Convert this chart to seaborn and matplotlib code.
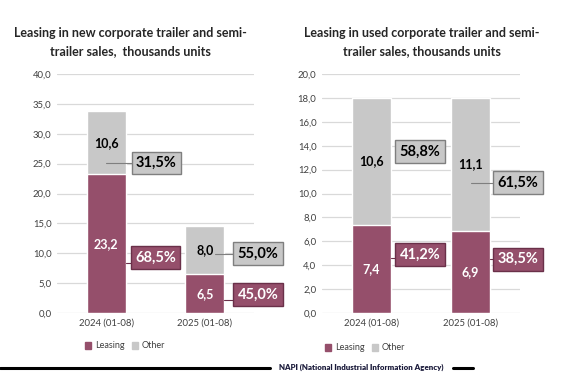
import matplotlib
matplotlib.use("Agg")
import matplotlib.pyplot as plt
from matplotlib import font_manager
import seaborn as sns
import pandas as pd
from matplotlib.lines import Line2D
from matplotlib.patches import Patch

# data
periods = ["2024 (01-08)", "2025 (01-08)"]
new_leasing = [23.2, 6.5]
new_other = [10.6, 8.0]
new_leasing_pct = ["68,5%", "45,0%"]
new_other_pct = ["31,5%", "55,0%"]
used_leasing = [7.4, 6.9]
used_other = [10.6, 11.1]
used_leasing_pct = ["41,2%", "38,5%"]
used_other_pct = ["58,8%", "61,5%"]

LEASE = "#954F6B"
OTHER = "#C8C8C8"
FONT = ["Lato", "DejaVu Sans"]

sns.set_theme(style="white")
plt.rcParams["font.family"] = FONT

# condensed font for the footer, if one is around
fonts = font_manager.fontManager.ttflist
names = {f.name for f in fonts}
footer_kw = dict(family=["Lato", "DejaVu Sans"], fontsize=5.7)
if "Liberation Sans Narrow" in names:
    footer_kw = dict(family=["Liberation Sans Narrow", "DejaVu Sans"], fontsize=7.8)

fig = plt.figure(figsize=(5.8, 3.8), dpi=100)
ax1 = fig.add_axes([57 / 580, 1 - 313 / 380, 197 / 580, 239 / 380])
ax2 = fig.add_axes([322 / 580, 1 - 313 / 380, 198 / 580, 239 / 380])


def fmt(v):
    return f"{v:.1f}".replace(".", ",")


def draw(ax, leasing, other, ymax, step):
    df = pd.DataFrame({"period": periods, "leasing": leasing,
                       "total": [a + b for a, b in zip(leasing, other)]})
    sns.barplot(data=df, x="period", y="total", color=OTHER, width=0.4,
                saturation=1, ax=ax, zorder=2)
    sns.barplot(data=df, x="period", y="leasing", color=LEASE, width=0.4,
                saturation=1, ax=ax, zorder=3)
    ax.set_xlim(-0.5, 1.5)
    ax.set_ylim(0, ymax)
    ticks = [i * step for i in range(int(round(ymax / step)) + 1)]
    ax.set_yticks(ticks)
    ax.set_yticklabels([fmt(t) for t in ticks])
    ax.set_xlabel("")
    ax.set_ylabel("")
    ax.grid(axis="y", color="#D9D9D9", linewidth=0.9, zorder=0)
    ax.set_axisbelow(True)
    for s in ax.spines.values():
        s.set_visible(False)
    ax.tick_params(axis="both", length=0, labelsize=6.8, colors="#404040", pad=4)
    for i in range(len(periods)):
        ax.text(i, leasing[i] / 2, fmt(leasing[i]), ha="center", va="center",
                color="white", fontsize=9, fontweight="bold", zorder=5)
        ax.text(i, leasing[i] + other[i] / 2, fmt(other[i]), ha="center",
                va="center", color="black", fontsize=9, fontweight="bold", zorder=5)


def box(ax, x, y, label, face, edge, color, x0=None, ly=None):
    ax.text(x, y, label, ha="center", va="center", fontsize=10.5,
            fontweight="bold", color=color, zorder=6, clip_on=False,
            bbox=dict(boxstyle="square,pad=0.3", fc=face, ec=edge, lw=1))
    if x0 is not None:
        ax.add_line(Line2D([x0, x - 0.2], [ly, ly], color=edge, lw=0.8,
                           zorder=4, clip_on=False))


draw(ax1, new_leasing, new_other, 40, 5)
box(ax1, 0.51, 25.1, new_other_pct[0], OTHER, "#7F7F7F", "black", 0.0, 25.1)
box(ax1, 0.50, 9.3, new_leasing_pct[0], LEASE, "#6A3049", "white", 0.2, 8.3)
box(ax1, 1.54, 9.95, new_other_pct[1], OTHER, "#7F7F7F", "black", 1.1, 9.95)
box(ax1, 1.54, 3.1, new_leasing_pct[1], LEASE, "#6A3049", "white", 1.2, 2.2)

draw(ax2, used_leasing, used_other, 20, 2)
box(ax2, 0.49, 13.5, used_other_pct[0], OTHER, "#7F7F7F", "black")
box(ax2, 0.49, 4.9, used_leasing_pct[0], LEASE, "#6A3049", "white", 0.2, 4.6)
box(ax2, 1.48, 10.9, used_other_pct[1], OTHER, "#7F7F7F", "black", 1.0, 10.9)
box(ax2, 1.48, 4.5, used_leasing_pct[1], LEASE, "#6A3049", "white", 1.2, 4.5)

# titles
fig.text(130 / 580, 1 - 42 / 380,
         "Leasing in new corporate trailer and semi-\ntrailer sales,  thousands units",
         ha="center", va="center", fontsize=9, fontweight="bold",
         linespacing=1.55)
fig.text(422 / 580, 1 - 42 / 380,
         "Leasing in used corporate trailer and semi-\ntrailer sales, thousands units",
         ha="center", va="center", fontsize=9, fontweight="bold",
         linespacing=1.55)

# legends
handles = [Patch(color=LEASE, label="Leasing"), Patch(color=OTHER, label="Other")]
for lx, ly in [(125 / 580, 1 - 346 / 380), (365 / 580, 1 - 348 / 380)]:
    fig.legend(handles=handles, loc="center", bbox_to_anchor=(lx, ly),
               ncol=2, frameon=False, fontsize=6.5, handlelength=0.7,
               handleheight=0.7, handletextpad=0.4, columnspacing=0.8,
               labelcolor="#404040")

# footer
fig.add_artist(Line2D([0, 270 / 580], [1 - 368 / 380] * 2, color="black", lw=2.2))
fig.add_artist(Line2D([453 / 580, 473 / 580], [1 - 368 / 380] * 2, color="black", lw=2.2))
fig.text(361.5 / 580, 1 - 367 / 380, "NAPI (National Industrial Information Agency)",
         ha="center", va="center", fontweight="heavy", color="#1C1C3C",
         bbox=dict(boxstyle="square,pad=0.15", fc="white", ec="none"),
         **footer_kw)

fig.savefig("out.png", dpi=100)
